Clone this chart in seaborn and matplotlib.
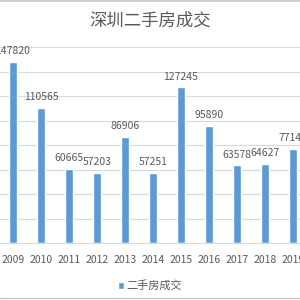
import seaborn as sns
import matplotlib.pyplot as plt
import pandas as pd
from matplotlib.lines import Line2D

years = ['2009', '2010', '2011', '2012', '2013', '2014', '2015', '2016', '2017', '2018', '2019']
deals = [147820, 110565, 60665, 57203, 86906, 57251, 127245, 95890, 63578, 64627, 77140]
series_name = '二手房成交'
title = '深圳二手房成交'

df = pd.DataFrame({'year': years, 'deals': deals})

sns.set_style('white')
plt.rcParams['font.family'] = ['Noto Sans CJK SC', 'DejaVu Sans']

fig = plt.figure(figsize=(3, 3), dpi=100)
ax = fig.add_axes([0, 0.19, 1, 0.653])

bar_color = '#5b9bd5'
text_color = '#595959'

sns.barplot(data=df, x='year', y='deals', color=bar_color, width=0.29,
            saturation=1, ax=ax, label=series_name)

ax.set_xlim(-0.464, 10.25)
ax.set_ylim(0, 160000)
ax.set_yticks(range(0, 160001, 20000))
ax.yaxis.grid(True, color='#d9d9d9', linewidth=0.8)
ax.set_axisbelow(True)
for s in ['left', 'right', 'top']:
    ax.spines[s].set_visible(False)
ax.spines['bottom'].set_color('#d9d9d9')
ax.tick_params(axis='y', left=False, labelleft=False)
ax.tick_params(axis='x', bottom=False, labelsize=7.5, labelcolor=text_color, pad=5)
ax.set_xlabel('')
ax.set_ylabel('')

for c in ax.containers:
    ax.bar_label(c, fmt='%d', fontsize=7.5, color=text_color, padding=4)

ax.legend(loc='upper center', bbox_to_anchor=(0.5, -0.14), frameon=False,
          fontsize=8, labelcolor=text_color, handlelength=0.6, handleheight=0.6,
          handletextpad=0.2)

fig.text(0.5, 0.93, title, ha='center', va='center', fontsize=12.5, color=text_color)

fig.add_artist(Line2D([0, 1], [0.997, 0.997], color='#d0d0d0', linewidth=1.5))
fig.add_artist(Line2D([0, 1], [0.008, 0.008], color='#c8c8c8', linewidth=1))

fig.savefig('out.png', dpi=100)
